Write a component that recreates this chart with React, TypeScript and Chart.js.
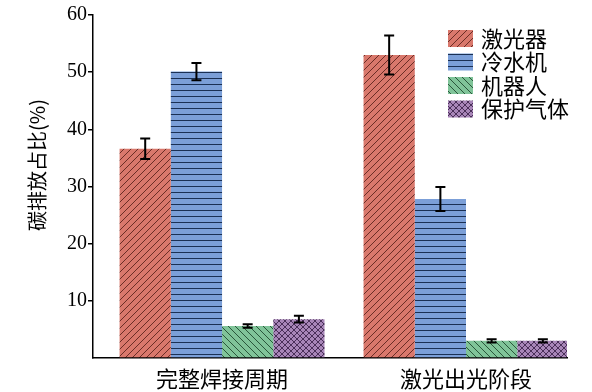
import React, { useEffect, useRef } from "react";
import { Chart, registerables } from "chart.js";

Chart.register(...registerables);

const categories = ["完整焊接周期", "激光出光阶段"];
const seriesNames = ["激光器", "冷水机", "机器人", "保护气体"];
const laserValues = [36.6, 53.0];
const laserErrors = [1.8, 3.4];
const chillerValues = [50.1, 27.8];
const chillerErrors = [1.5, 2.1];
const robotValues = [5.6, 3.0];
const robotErrors = [0.3, 0.3];
const gasValues = [6.8, 3.0];
const gasErrors = [0.6, 0.3];
const yTicks = [0, 10, 20, 30, 40, 50, 60];
const yTitle = "碳排放占比(%)";

const seriesValues = [laserValues, chillerValues, robotValues, gasValues];
const seriesErrors = [laserErrors, chillerErrors, robotErrors, gasErrors];

type Kind = "fwd" | "back" | "horiz" | "cross";

function makePattern(bg: string, line: string, kind: Kind): CanvasPattern | string {
  const c = document.createElement("canvas");
  const s = kind === "horiz" ? 6 : kind === "cross" ? 6 : 7;
  c.width = s;
  c.height = s;
  const ctx = c.getContext("2d");
  if (!ctx) return bg;
  ctx.fillStyle = bg;
  ctx.fillRect(0, 0, s, s);
  ctx.strokeStyle = line;
  ctx.lineWidth = 1;
  ctx.beginPath();
  if (kind === "fwd" || kind === "cross") {
    ctx.moveTo(0, s);
    ctx.lineTo(s, 0);
    ctx.moveTo(-1, 1);
    ctx.lineTo(1, -1);
    ctx.moveTo(s - 1, s + 1);
    ctx.lineTo(s + 1, s - 1);
  }
  if (kind === "back" || kind === "cross") {
    ctx.moveTo(0, 0);
    ctx.lineTo(s, s);
    ctx.moveTo(s - 1, -1);
    ctx.lineTo(s + 1, 1);
    ctx.moveTo(-1, s - 1);
    ctx.lineTo(1, s + 1);
  }
  if (kind === "horiz") {
    ctx.moveTo(0, 0.5);
    ctx.lineTo(s, 0.5);
  }
  ctx.stroke();
  const p = ctx.createPattern(c, "repeat");
  return p || bg;
}

export default function App() {
  const ref = useRef<HTMLCanvasElement | null>(null);

  useEffect(() => {
    if (!ref.current) return;
    const patterns = [
      makePattern("#d9786c", "rgba(70,20,15,0.75)", "fwd"),
      makePattern("#7b9fd8", "rgba(15,35,70,0.9)", "horiz"),
      makePattern("#80c499", "rgba(20,60,35,0.8)", "back"),
      makePattern("#a886b8", "rgba(50,25,65,0.8)", "cross"),
    ];

    const errorBars = {
      id: "errorBars",
      afterDatasetsDraw(chart: any) {
        const ctx = chart.ctx;
        const y = chart.scales.y;
        ctx.save();
        ctx.strokeStyle = "#000";
        ctx.lineWidth = 2;
        chart.data.datasets.forEach((ds: any, i: number) => {
          const meta = chart.getDatasetMeta(i);
          meta.data.forEach((el: any, j: number) => {
            const v = seriesValues[i][j];
            const e = seriesErrors[i][j];
            const yt = y.getPixelForValue(v + e);
            const yb = y.getPixelForValue(v - e);
            const x = el.x;
            ctx.beginPath();
            ctx.moveTo(x, yt);
            ctx.lineTo(x, yb);
            ctx.moveTo(x - 5, yt);
            ctx.lineTo(x + 5, yt);
            ctx.moveTo(x - 5, yb);
            ctx.lineTo(x + 5, yb);
            ctx.stroke();
          });
        });
        ctx.restore();
      },
    };

    const customText = {
      id: "customText",
      afterDraw(chart: any) {
        const ctx = chart.ctx;
        const area = chart.chartArea;
        ctx.save();
        ctx.translate(37, 165);
        ctx.rotate(-Math.PI / 2);
        ctx.fillStyle = "#000";
        ctx.font = '20px "Noto Sans CJK SC"';
        ctx.textAlign = "center";
        ctx.textBaseline = "middle";
        ctx.fillText(yTitle, 0, 0);
        ctx.restore();
        ctx.save();
        const bx = area.right - 119;
        const by0 = area.top + 15;
        chart.data.datasets.forEach((ds: any, i: number) => {
          const by = by0 + i * 23.5;
          ctx.fillStyle = ds.backgroundColor;
          ctx.fillRect(bx, by, 25, 17);
          ctx.fillStyle = "#000";
          ctx.font = '22px "Noto Sans CJK SC"';
          ctx.textAlign = "left";
          ctx.textBaseline = "middle";
          ctx.fillText(ds.label, bx + 33, by + 8.5);
        });
        ctx.restore();
      },
    };

    const chart = new Chart(ref.current, {
      type: "bar",
      data: {
        datasets: seriesNames.map((name, i) => ({
          label: name,
          data: seriesValues[i].map((v, j) => ({ x: j, y: v })),
          backgroundColor: patterns[i] as any,
          borderWidth: 0,
          categoryPercentage: 0.84,
          barPercentage: 1,
        })),
      },
      options: {
        responsive: false,
        animation: false,
        layout: { padding: { left: 0, right: 25, top: 15, bottom: 0 } },
        plugins: {
          legend: { display: false },
          tooltip: { enabled: false },
        },
        scales: {
          x: {
            type: "linear",
            offset: false,
            min: -0.529,
            max: 1.414,
            grid: { display: false, drawTicks: false, offset: false },
            border: { display: true, color: "#000", width: 1.5 },
            afterBuildTicks: (scale: any) => {
              scale.ticks = categories.map((_, i) => ({ value: i }));
            },
            afterFit: (scale: any) => {
              scale.height = 34;
            },
            ticks: {
              autoSkip: false,
              maxRotation: 0,
              padding: 7,
              color: "#000",
              font: { family: '"Noto Sans CJK SC"', size: 22 },
              callback: (v: any) => categories[v] ?? "",
            },
          },
          y: {
            min: 0,
            max: 60,
            afterBuildTicks: (scale: any) => {
              scale.ticks = yTicks.map((v) => ({ value: v }));
            },
            afterFit: (scale: any) => {
              scale.width = 93;
            },
            grid: {
              drawOnChartArea: false,
              drawTicks: true,
              tickLength: 5,
              color: (c: any) => (c.tick && c.tick.value === 0 ? "rgba(0,0,0,0)" : "#000"),
              lineWidth: 1.5,
            },
            border: { display: true, color: "#000", width: 1.5 },
            ticks: {
              padding: 1,
              color: "#000",
              font: { family: '"Liberation Serif"', size: 20 },
              callback: (v: any) => (v === 0 ? "" : String(v)),
            },
          },
        },
      },
      plugins: [errorBars, customText],
    });
    return () => chart.destroy();
  }, []);

  return (
    <div style={{ position: "absolute", left: 0, top: 0, width: 592, height: 392, background: "#fff" }}>
      <canvas ref={ref} width={592} height={392} style={{ display: "block", width: 592, height: 392 }} />
    </div>
  );
}
